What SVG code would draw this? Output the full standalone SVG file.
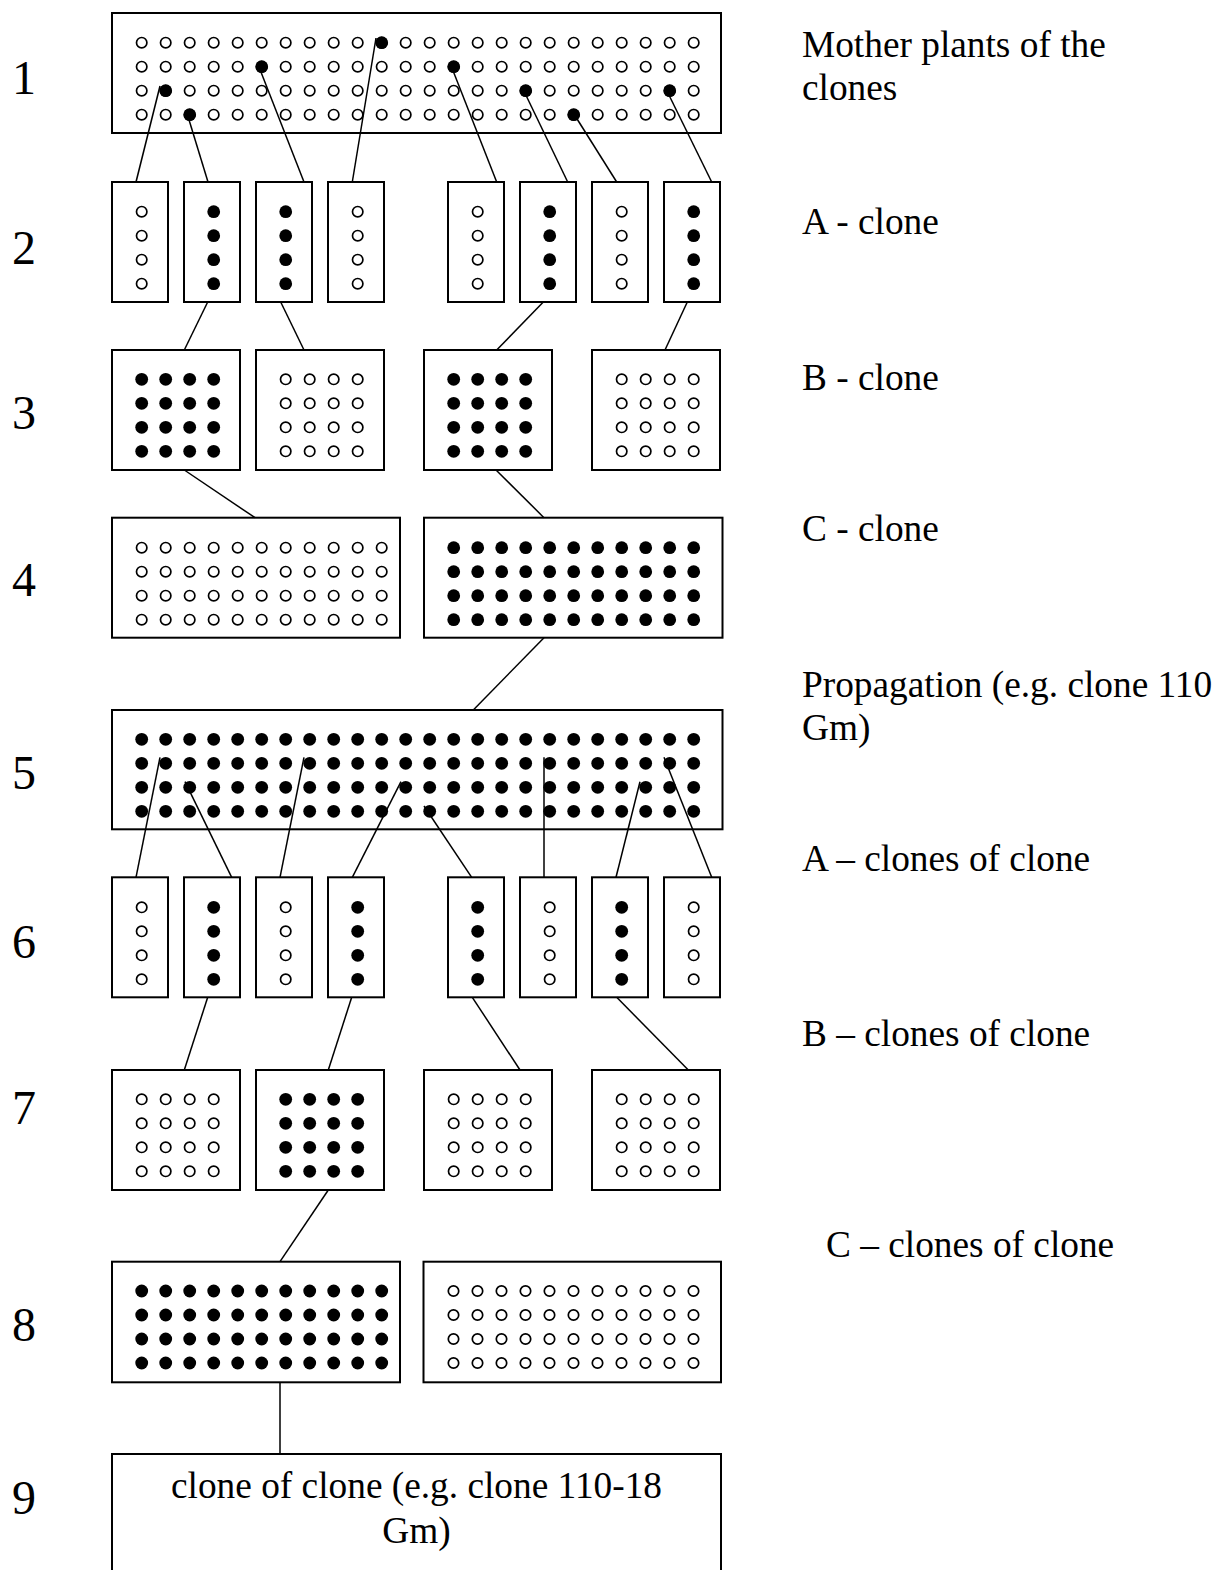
<svg xmlns="http://www.w3.org/2000/svg" xmlns:xlink="http://www.w3.org/1999/xlink" width="1220" height="1570" viewBox="0 0 1220 1570">
<style>
.box{fill:#fff;stroke:#000;stroke-width:2}
.o{fill:#fff;stroke:#000;stroke-width:1.7}
.f{fill:#000}
.conn line{stroke:#000;stroke-width:1.5;fill:none}
text{font-family:"Liberation Serif","Times New Roman",serif;fill:#000}
.lbl{font-size:37.33px}
.num{font-size:48px}
</style>
<defs>
<g id="c4o" class="o"><circle cx="0" cy="0" r="5.2"/><circle cx="0" cy="24" r="5.2"/><circle cx="0" cy="48" r="5.2"/><circle cx="0" cy="72" r="5.2"/></g>
<g id="c4f" class="f"><circle cx="0" cy="0" r="6.4"/><circle cx="0" cy="24" r="6.4"/><circle cx="0" cy="48" r="6.4"/><circle cx="0" cy="72" r="6.4"/></g>
<g id="g4o"><use href="#c4o"/><use href="#c4o" x="24"/><use href="#c4o" x="48"/><use href="#c4o" x="72"/></g>
<g id="g4f"><use href="#c4f"/><use href="#c4f" x="24"/><use href="#c4f" x="48"/><use href="#c4f" x="72"/></g>
<g id="g11o"><use href="#g4o"/><use href="#g4o" x="96"/><use href="#c4o" x="192"/><use href="#c4o" x="216"/><use href="#c4o" x="240"/></g>
<g id="g11f"><use href="#g4f"/><use href="#g4f" x="96"/><use href="#c4f" x="192"/><use href="#c4f" x="216"/><use href="#c4f" x="240"/></g>
<g id="g24o"><use href="#g4o"/><use href="#g4o" x="96"/><use href="#g4o" x="192"/><use href="#g4o" x="288"/><use href="#g4o" x="384"/><use href="#g4o" x="480"/></g>
<g id="g24f"><use href="#g4f"/><use href="#g4f" x="96"/><use href="#g4f" x="192"/><use href="#g4f" x="288"/><use href="#g4f" x="384"/><use href="#g4f" x="480"/></g>
</defs>
<rect width="1220" height="1570" fill="#fff"/>

<g id="row-numbers" class="num">
<text x="12" y="94">1</text>
<text x="12" y="264">2</text>
<text x="12" y="429">3</text>
<text x="12" y="596">4</text>
<text x="12" y="789">5</text>
<text x="12" y="958">6</text>
<text x="12" y="1124">7</text>
<text x="12" y="1341">8</text>
<text x="12" y="1514">9</text>
</g>

<g id="labels" class="lbl">
<text x="802" y="57">Mother plants of the</text>
<text x="802" y="100">clones</text>
<text x="802" y="234">A - clone</text>
<text x="802" y="390">B - clone</text>
<text x="802" y="541">C - clone</text>
<text x="802" y="697">Propagation (e.g. clone 110</text>
<text x="802" y="740">Gm)</text>
<text x="802" y="871">A – clones of clone</text>
<text x="802" y="1046">B – clones of clone</text>
<text x="826" y="1257">C – clones of clone</text>
</g>

<g id="n1"><rect class="box" x="112" y="13" width="609" height="120"/><use href="#g24o" x="141.7" y="42.7"/>
<g class="f"><circle cx="381.7" cy="42.7" r="6.4"/><circle cx="261.7" cy="66.7" r="6.4"/><circle cx="165.7" cy="90.7" r="6.4"/><circle cx="189.7" cy="114.7" r="6.4"/><circle cx="453.7" cy="66.7" r="6.4"/><circle cx="525.7" cy="90.7" r="6.4"/><circle cx="573.7" cy="114.7" r="6.4"/><circle cx="669.7" cy="90.7" r="6.4"/></g></g>

<g id="n2a"><rect class="box" x="112" y="182" width="56" height="120"/><use href="#c4o" x="141.7" y="211.7"/></g>
<g id="n2b"><rect class="box" x="184" y="182" width="56" height="120"/><use href="#c4f" x="213.7" y="211.7"/></g>
<g id="n2c"><rect class="box" x="256" y="182" width="56" height="120"/><use href="#c4f" x="285.7" y="211.7"/></g>
<g id="n2d"><rect class="box" x="328" y="182" width="56" height="120"/><use href="#c4o" x="357.7" y="211.7"/></g>
<g id="n2e"><rect class="box" x="448" y="182" width="56" height="120"/><use href="#c4o" x="477.7" y="211.7"/></g>
<g id="n2f"><rect class="box" x="520" y="182" width="56" height="120"/><use href="#c4f" x="549.7" y="211.7"/></g>
<g id="n2g"><rect class="box" x="592" y="182" width="56" height="120"/><use href="#c4o" x="621.7" y="211.7"/></g>
<g id="n2h"><rect class="box" x="664" y="182" width="56" height="120"/><use href="#c4f" x="693.7" y="211.7"/></g>

<g id="n3a"><rect class="box" x="112" y="350" width="128" height="120"/><use href="#g4f" x="141.7" y="379.3"/></g>
<g id="n3b"><rect class="box" x="256" y="350" width="128" height="120"/><use href="#g4o" x="285.7" y="379.3"/></g>
<g id="n3c"><rect class="box" x="424" y="350" width="128" height="120"/><use href="#g4f" x="453.7" y="379.3"/></g>
<g id="n3d"><rect class="box" x="592" y="350" width="128" height="120"/><use href="#g4o" x="621.7" y="379.3"/></g>

<g id="n4a"><rect class="box" x="112" y="517.7" width="288" height="120"/><use href="#g11o" x="141.7" y="547.7"/></g>
<g id="n4b"><rect class="box" x="424" y="517.7" width="298.5" height="120"/><use href="#g11f" x="453.7" y="547.7"/></g>

<g id="n5"><rect class="box" x="112" y="710" width="610.5" height="119.3"/><use href="#g24f" x="141.7" y="739.3"/></g>

<g id="n6a"><rect class="box" x="112" y="877.3" width="56" height="120"/><use href="#c4o" x="141.7" y="907.3"/></g>
<g id="n6b"><rect class="box" x="184" y="877.3" width="56" height="120"/><use href="#c4f" x="213.7" y="907.3"/></g>
<g id="n6c"><rect class="box" x="256" y="877.3" width="56" height="120"/><use href="#c4o" x="285.7" y="907.3"/></g>
<g id="n6d"><rect class="box" x="328" y="877.3" width="56" height="120"/><use href="#c4f" x="357.7" y="907.3"/></g>
<g id="n6e"><rect class="box" x="448" y="877.3" width="56" height="120"/><use href="#c4f" x="477.7" y="907.3"/></g>
<g id="n6f"><rect class="box" x="520" y="877.3" width="56" height="120"/><use href="#c4o" x="549.7" y="907.3"/></g>
<g id="n6g"><rect class="box" x="592" y="877.3" width="56" height="120"/><use href="#c4f" x="621.7" y="907.3"/></g>
<g id="n6h"><rect class="box" x="664" y="877.3" width="56" height="120"/><use href="#c4o" x="693.7" y="907.3"/></g>

<g id="n7a"><rect class="box" x="112" y="1070" width="128" height="120"/><use href="#g4o" x="141.7" y="1099.3"/></g>
<g id="n7b"><rect class="box" x="256" y="1070" width="128" height="120"/><use href="#g4f" x="285.7" y="1099.3"/></g>
<g id="n7c"><rect class="box" x="424" y="1070" width="128" height="120"/><use href="#g4o" x="453.7" y="1099.3"/></g>
<g id="n7d"><rect class="box" x="592" y="1070" width="128" height="120"/><use href="#g4o" x="621.7" y="1099.3"/></g>

<g id="n8a"><rect class="box" x="112" y="1261.7" width="288" height="120.6"/><use href="#g11f" x="141.7" y="1291"/></g>
<g id="n8b"><rect class="box" x="423.5" y="1261.7" width="297.5" height="120.6"/><use href="#g11o" x="453.5" y="1291"/></g>

<g id="n9"><rect class="box" x="112" y="1454" width="609" height="130"/>
<text class="lbl" x="416.5" y="1498" text-anchor="middle">clone of clone (e.g. clone 110-18</text>
<text class="lbl" x="416.5" y="1543" text-anchor="middle">Gm)</text></g>

<g id="connectors" class="conn">
<line x1="160" y1="86" x2="136" y2="182"/>
<line x1="186" y1="110" x2="208" y2="182"/>
<line x1="259" y1="67" x2="304" y2="182"/>
<line x1="376" y1="38" x2="352.3" y2="182"/>
<line x1="450" y1="63" x2="496.7" y2="182"/>
<line x1="522" y1="87" x2="567.7" y2="182"/>
<line x1="573.3" y1="113" x2="616.7" y2="182"/>
<line x1="665" y1="87" x2="711.7" y2="182"/>
<line x1="207.7" y1="302" x2="184.3" y2="350"/>
<line x1="280.7" y1="302" x2="304" y2="350"/>
<line x1="543.3" y1="302" x2="496.7" y2="350"/>
<line x1="687.3" y1="302" x2="665" y2="350"/>
<line x1="184.3" y1="470" x2="255" y2="517.7"/>
<line x1="496" y1="470" x2="544" y2="517.7"/>
<line x1="544" y1="637.7" x2="473.3" y2="710"/>
<line x1="160" y1="757.3" x2="136" y2="877.3"/>
<line x1="185" y1="781.7" x2="231.7" y2="877.3"/>
<line x1="304" y1="757.3" x2="280" y2="877.3"/>
<line x1="401" y1="781.7" x2="352.3" y2="877.3"/>
<line x1="424" y1="806" x2="471.7" y2="877.3"/>
<line x1="544" y1="757.3" x2="544" y2="877.3"/>
<line x1="640" y1="781.7" x2="616" y2="877.3"/>
<line x1="664" y1="757.3" x2="711.7" y2="877.3"/>
<line x1="207.7" y1="997.3" x2="184.3" y2="1070"/>
<line x1="351.7" y1="997.3" x2="328.3" y2="1070"/>
<line x1="472.3" y1="997.3" x2="520" y2="1070"/>
<line x1="616.7" y1="997.3" x2="688.3" y2="1070"/>
<line x1="328.3" y1="1190" x2="280" y2="1261.7"/>
<line x1="280" y1="1382.3" x2="280" y2="1454"/>
</g>
</svg>
